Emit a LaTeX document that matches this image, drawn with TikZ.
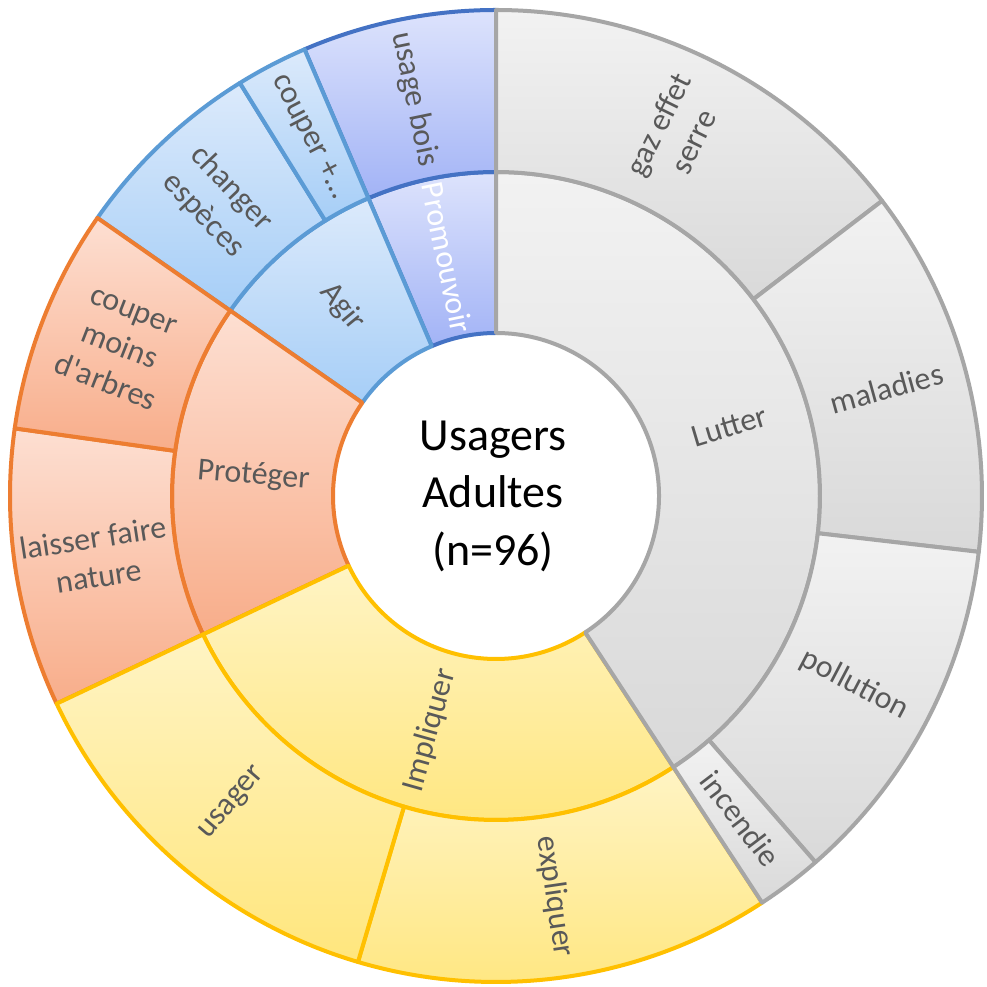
\documentclass[tikz,border=0pt]{standalone}
\usepackage{fontspec}
\setmainfont{Carlito}
\usepackage{tikz}

\definecolor{greyline}{HTML}{A6A6A6}
\definecolor{greytop}{HTML}{F2F2F2}
\definecolor{greybot}{HTML}{D9D9D9}
\definecolor{goldline}{HTML}{FFC000}
\definecolor{goldtop}{HTML}{FFF4C4}
\definecolor{goldbot}{HTML}{FFE67D}
\definecolor{orangeline}{HTML}{ED7D31}
\definecolor{orangetop}{HTML}{FDDFD2}
\definecolor{orangebot}{HTML}{F8AD8A}
\definecolor{blueline}{HTML}{5B9BD5}
\definecolor{bluetop}{HTML}{DCEAFB}
\definecolor{bluebot}{HTML}{A6CEF7}
\definecolor{navyline}{HTML}{4472C4}
\definecolor{navytop}{HTML}{DDE3FC}
\definecolor{navybot}{HTML}{A2B3F6}
\definecolor{labelgrey}{HTML}{595959}

% style, inner radius, outer radius, start angle, end angle
\newcommand{\ringpart}[5]{%
  \path[#1] (#4:#2) -- (#4:#3) arc[start angle=#4,end angle=#5,radius=#3]
    -- (#5:#2) arc[start angle=#5,end angle=#4,radius=#2] -- cycle;}

\begin{document}
\begin{tikzpicture}[x=1pt,y=1pt,line width=4pt,line join=round,
    grey part/.style={draw=greyline,top color=greytop,bottom color=greybot},
    gold part/.style={draw=goldline,top color=goldtop,bottom color=goldbot},
    orange part/.style={draw=orangeline,top color=orangetop,bottom color=orangebot},
    blue part/.style={draw=blueline,top color=bluetop,bottom color=bluebot},
    navy part/.style={draw=navyline,top color=navytop,bottom color=navybot},
    lab/.style={text=labelgrey,font=\fontsize{32}{39}\selectfont,align=center,inner sep=0pt}]
  \fill[white] (-496,-491) rectangle (491,496);
  \useasboundingbox (-496,-491) rectangle (491,496);

  % Promouvoir
  \ringpart{navy part}{163}{324}{113.2}{90}
  \ringpart{navy part}{324}{486}{113.2}{90}
  % Agir
  \ringpart{blue part}{163}{324}{145.1}{113.2}
  \ringpart{blue part}{324}{486}{145.1}{121.8}
  \ringpart{blue part}{324}{486}{121.8}{113.2}
  % Proteger
  \ringpart{orange part}{163}{324}{205.3}{145.1}
  \ringpart{orange part}{324}{486}{205.3}{172}
  \ringpart{orange part}{324}{486}{172}{145.1}
  % Impliquer
  \ringpart{gold part}{163}{324}{-56.8}{-154.7}
  \ringpart{gold part}{324}{486}{-56.8}{-106.5}
  \ringpart{gold part}{324}{486}{-106.5}{-154.7}
  % Lutter
  \ringpart{grey part}{163}{324}{90}{-56.8}
  \ringpart{grey part}{324}{486}{90}{37.4}
  \ringpart{grey part}{324}{486}{37.4}{-6.6}
  \ringpart{grey part}{324}{486}{-6.6}{-48.9}
  \ringpart{grey part}{324}{486}{-48.9}{-56.8}

  % inner ring
  \node[lab,rotate=16.6] (lutter) at (16.6:243.5) {Lutter};
  \node[lab,rotate=74.25] (impliquer) at (-105.75:243.5) {Impliquer};
  \node[lab,rotate=-4.8] (proteger) at (175.2:243.5) {Protéger};
  \node[lab,rotate=-50.85] (agir) at (129.15:243.5) {Agir};
  \node[lab,rotate=-78.4,text=white] (promouvoir) at (101.6:243.5) {Promouvoir};
  % outer ring
  \node[lab,rotate=63.7] (gaz) at (63.7:405) {gaz effet\\serre};
  \node[lab,rotate=15.4] (maladies) at (15.4:405) {maladies};
  \node[lab,rotate=-27.75] (pollution) at (-27.75:405) {pollution};
  \node[lab,rotate=-52.85] (incendie) at (-52.85:405) {incendie};
  \node[lab,rotate=-81.65] (expliquer) at (-81.65:405) {expliquer};
  \node[lab,rotate=49.4] (usager) at (-130.6:405) {usager};
  \node[lab,rotate=8.65] (laisser) at (188.65:405) {laisser faire\\nature};
  \node[lab,rotate=-21.45] (moins) at (158.55:405) {couper\\moins\\d\textquotesingle arbres};
  \node[lab,rotate=-46.55] (especes) at (133.45:405) {changer\\espèces};
  \node[lab,rotate=-62.5] (couper) at (117.5:405) {couper +…};
  \node[lab,rotate=-78.4] (bois) at (101.6:405) {usage bois};

  \node[font=\fontsize{46}{57.5}\selectfont,align=center,inner sep=0pt] (centre) at (-3,0) {Usagers\\Adultes\\(n=96)};
\end{tikzpicture}
\end{document}
